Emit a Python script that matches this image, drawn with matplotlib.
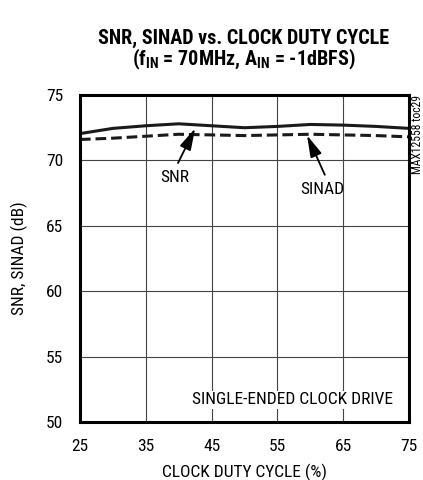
from matplotlib import pyplot as plt
import numpy as np

# data
duty = [25, 30, 35, 40, 45, 50, 55, 60, 65, 70, 75]
snr = [72.05, 72.45, 72.65, 72.8, 72.65, 72.5, 72.6, 72.75, 72.7, 72.6, 72.45]
sinad = [71.6, 71.7, 71.85, 72.0, 71.95, 71.9, 71.95, 72.0, 71.95, 71.9, 71.8]
xticks = [25, 35, 45, 55, 65, 75]
yticks = [50, 55, 60, 65, 70, 75]

fam = 'Roboto Condensed'
plt.rcParams['font.family'] = [fam, 'DejaVu Sans']
plt.rcParams['mathtext.fontset'] = 'custom'
plt.rcParams['mathtext.rm'] = fam
plt.rcParams['mathtext.bf'] = fam + ':bold'

fig = plt.figure(figsize=(4.23, 4.8), dpi=100)
ax = fig.add_axes([0.189, 0.121, 0.778, 0.681])

ax.plot(duty, snr, color='#1a1a1a', lw=2.2, solid_capstyle='butt')
ax.plot(duty, sinad, color='#1a1a1a', lw=2.2, dashes=(3.5, 1.6))

ax.set_xlim(25, 75)
ax.set_ylim(50, 75)
ax.set_xticks(xticks)
ax.set_yticks(yticks)
ax.tick_params(length=0, labelsize=12.5)
ax.tick_params(axis='x', pad=12)
ax.tick_params(axis='y', pad=12)
ax.grid(True, color='#444444', lw=0.8)
for s in ax.spines.values():
    s.set_linewidth(2.2)

ax.set_xlabel('CLOCK DUTY CYCLE (%)', fontsize=12.5)
ax.set_ylabel('SNR, SINAD (dB)', fontsize=12.5)
ax.xaxis.set_label_coords(0.5, -0.128)
ax.yaxis.set_label_coords(-0.158, 0.5)

# annotations: text and arrows drawn separately
arrow = dict(arrowstyle='-|>,head_length=1.1,head_width=0.3', color='black',
             lw=1.3, shrinkA=0, shrinkB=0, mutation_scale=12)
ax.text(39.4, 68.73, 'SNR', fontsize=12.5, ha='center', va='center')
ax.annotate('', xy=(42.5, 72.45), xytext=(39.9, 69.8), arrowprops=arrow)
ax.text(61.85, 67.78, 'SINAD', fontsize=12.5, ha='center', va='center')
ax.annotate('', xy=(59.5, 71.92), xytext=(62.2, 68.9), arrowprops=arrow)

ax.text(72.57, 51.68, 'SINGLE-ENDED CLOCK DRIVE', fontsize=12.5, ha='right', va='center',
        bbox=dict(facecolor='white', edgecolor='none', pad=1))

fig.text(0.986, 0.802, 'MAX12558 toc29', rotation=90, fontsize=8.4,
         ha='center', va='top')

fig.text(0.576, 0.92, 'SNR, SINAD vs. CLOCK DUTY CYCLE', fontsize=14.5,
         fontweight='bold', ha='center', va='center')
fig.text(0.576, 0.877, r'(f$_{\mathbf{IN}}$ = 70MHz, A$_{\mathbf{IN}}$ = -1dBFS)', fontsize=14.5,
         fontweight='bold', ha='center', va='center')

plt.savefig('out.png', dpi=100)
